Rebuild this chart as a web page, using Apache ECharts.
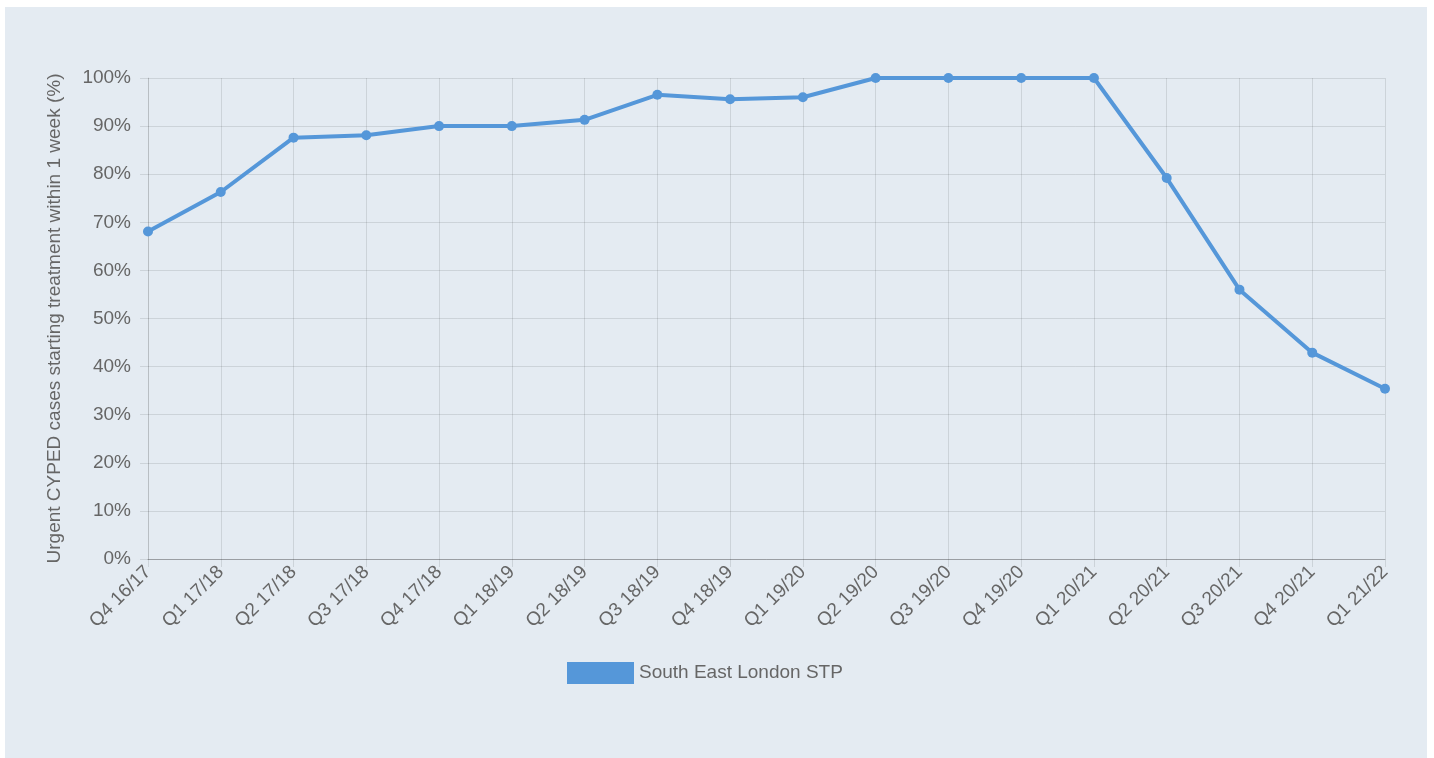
<!DOCTYPE html>
<html>
<head>
<meta charset="utf-8">
<script src="https://cdn.jsdelivr.net/npm/echarts@6/dist/echarts.min.js"></script>
<style>
  body { margin: 0; background: #fff; }
  #main { position: absolute; left: 5px; top: 7px; width: 1422px; height: 751px; background: #e4ebf2; }
</style>
</head>
<body>
<!-- chart container -->
<div id="main"></div>
<script>
// quarters on the x axis
var quarters = ['Q4 16/17', 'Q1 17/18', 'Q2 17/18', 'Q3 17/18', 'Q4 17/18', 'Q1 18/19',
  'Q2 18/19', 'Q3 18/19', 'Q4 18/19', 'Q1 19/20', 'Q2 19/20', 'Q3 19/20', 'Q4 19/20',
  'Q1 20/21', 'Q2 20/21', 'Q3 20/21', 'Q4 20/21', 'Q1 21/22']
// % of urgent cases starting treatment within 1 week
var seLondon = [68.1, 76.3, 87.6, 88.1, 90.0, 90.0, 91.3, 96.5, 95.6, 96.0,
  100, 100, 100, 100, 79.2, 56.0, 42.9, 35.4]
var seriesName = 'South East London STP'
var yTitle = 'Urgent CYPED cases starting treatment within 1 week (%)'

var myChart = echarts.init(document.getElementById('main'))
var textColor = '#666'
var gridColor = 'rgba(0,0,0,0.1)'
var option = {
  animation: false,
  textStyle: { fontFamily: 'Liberation Sans, Arial, sans-serif' },
  grid: { left: 143, right: 42, top: 71, bottom: 199, containLabel: false },
  legend: {
    data: [seriesName],
    left: 557,
    top: 650,
    itemWidth: 67,
    itemHeight: 22,
    itemGap: 10,
    icon: 'rect',
    textStyle: { color: textColor, fontSize: 19 }
  },
  xAxis: {
    type: 'category',
    boundaryGap: false,
    data: quarters,
    axisLine: { lineStyle: { color: 'rgba(0,0,0,0.25)', width: 1 } },
    axisTick: { show: true, length: 8, lineStyle: { color: gridColor } },
    splitLine: { show: true, lineStyle: { color: gridColor } },
    axisLabel: { rotate: 45, color: textColor, fontSize: 19, margin: 10, interval: 0 }
  },
  yAxis: {
    type: 'value',
    min: 0,
    max: 100,
    interval: 10,
    name: yTitle,
    nameLocation: 'middle',
    nameGap: 84,
    nameTextStyle: { color: textColor, fontSize: 19 },
    axisLine: { show: true, lineStyle: { color: gridColor } },
    axisTick: { show: true, length: 8, lineStyle: { color: gridColor } },
    splitLine: { lineStyle: { color: gridColor } },
    axisLabel: { color: textColor, fontSize: 19, margin: 17, formatter: '{value}%' }
  },
  series: [
    {
      name: seriesName,
      type: 'line',
      data: seLondon,
      symbol: 'circle',
      symbolSize: 10,
      lineStyle: { color: '#5597d9', width: 4 },
      itemStyle: { color: '#5597d9' }
    }
  ]
}
myChart.setOption(option)
</script>
</body>
</html>
